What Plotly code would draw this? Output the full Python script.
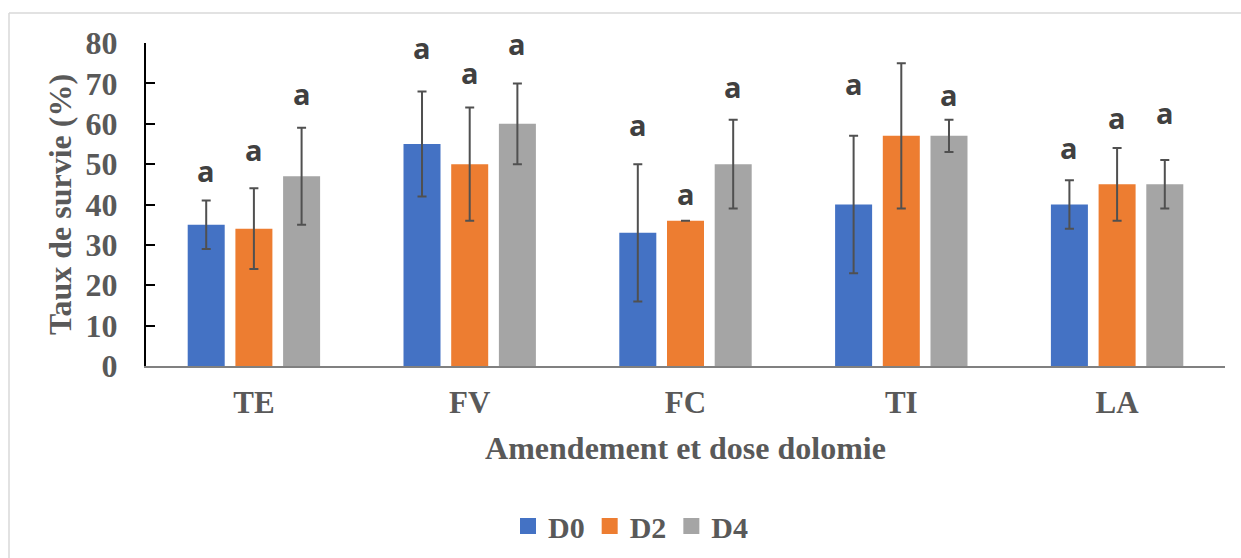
import plotly.graph_objects as go

# Survival rate (%) per amendment and dolomite dose
amendments = ["TE", "FV", "FC", "TI", "LA"]
doses = ["D0", "D2", "D4"]

survie_d0 = [35, 55, 33, 40, 40]
survie_d2 = [34, 50, 36, 57, 45]
survie_d4 = [47, 60, 50, 57, 45]

ecart_d0 = [6, 13, 17, 17, 6]
ecart_d2 = [10, 14, 0, 18, 9]
ecart_d4 = [12, 10, 11, 4, 6]

# Significance letters and the height (in % units) at which each sits
lettres_d0 = ["a", "a", "a", "a", "a"]
lettres_d2 = ["a", "a", "a", "a", "a"]
lettres_d4 = ["a", "a", "a", "a", "a"]
hauteur_d0 = [48.3, 79.0, 59.7, 70.0, 54.0]
hauteur_d2 = [53.5, 72.8, 42.7, 80.8, 61.6]
hauteur_d4 = [67.6, 79.9, 69.3, 67.3, 62.8]

colors = ["#4472C4", "#ED7D31", "#A5A5A5"]
values = [survie_d0, survie_d2, survie_d4]
errors = [ecart_d0, ecart_d2, ecart_d4]
letters = [lettres_d0, lettres_d2, lettres_d4]
heights = [hauteur_d0, hauteur_d2, hauteur_d4]

W, H = 1241, 558
ML, MR, MT, MB = 146, 16, 43, 192
plot_w = W - ML - MR
plot_h = H - MT - MB
BARGAP = 0.337
BARGROUPGAP = 0.224

serif = "Liberation Serif, Times New Roman, serif"
gray_txt = "#595959"

fig = go.Figure()
for name, vals, err, col in zip(doses, values, errors, colors):
    fig.add_trace(go.Bar(
        name=name, x=amendments, y=vals, legendgroup=name, showlegend=False,
        marker=dict(color=col, line=dict(width=0)),
        error_y=dict(type="data", array=err, visible=True,
                     color="#505050", thickness=2, width=4.5),
    ))
    # legend entry with a larger square swatch
    fig.add_trace(go.Scatter(
        name=name, x=[None], y=[None], mode="markers", legendgroup=name,
        marker=dict(symbol="square", size=16, color=col),
        showlegend=True, hoverinfo="skip",
    ))

# letters above each bar, shifted to the bar's slot inside the group
slot_px = plot_w / len(amendments) * (1 - BARGAP) / len(doses)
for i, (lets, hts) in enumerate(zip(letters, heights)):
    for cat, let, h in zip(amendments, lets, hts):
        fig.add_annotation(
            x=cat, y=h, text=let, showarrow=False,
            xshift=(i - 1) * slot_px, yanchor="middle",
            font=dict(family="Open Sans, sans-serif", size=29,
                      color="#404040", weight="bold"),
        )

# outer frame: top and left edges
frame = dict(color="#D9D9D9", width=1.5)
x0p = (9 - ML) / plot_w
y0p = (H - MB - 13) / plot_h
fig.add_shape(type="line", xref="paper", yref="paper",
              x0=x0p, x1=(W - ML) / plot_w, y0=y0p, y1=y0p, line=frame)
fig.add_shape(type="line", xref="paper", yref="paper",
              x0=x0p, x1=x0p, y0=y0p, y1=-(MB / plot_h), line=frame)

fig.update_layout(
    width=W, height=H,
    margin=dict(l=ML, r=MR, t=MT, b=MB, autoexpand=False),
    barmode="group", bargap=BARGAP, bargroupgap=BARGROUPGAP,
    plot_bgcolor="white", paper_bgcolor="white",
    font=dict(family=serif, color=gray_txt),
    showlegend=True,
    legend=dict(
        orientation="h", itemsizing="trace",
        xref="container", x=508 / W, xanchor="left",
        yref="container", y=(H - 526) / H, yanchor="middle",
        font=dict(family=serif, size=30, color=gray_txt, weight="bold"),
        itemclick=False, itemdoubleclick=False,
    ),
    xaxis=dict(
        type="category",
        showline=True, linecolor="#808080", linewidth=2,
        ticks="", tickfont=dict(family=serif, size=31, color=gray_txt, weight="bold"),
        ticklabelstandoff=8,
        title=dict(text="Amendement et dose dolomie", standoff=17,
                   font=dict(family=serif, size=32, color=gray_txt, weight="bold")),
        automargin=False,
    ),
    yaxis=dict(
        range=[0, 80], dtick=10, showgrid=False, zeroline=False,
        showline=True, linecolor="#000000", linewidth=2,
        ticks="inside", ticklen=9, tickwidth=2, tickcolor="#000000",
        tickfont=dict(family=serif, size=32, color=gray_txt, weight="bold"),
        ticklabelstandoff=20,
        title=dict(text="Taux de survie (%)", standoff=4,
                   font=dict(family=serif, size=32, color=gray_txt, weight="bold")),
        automargin=False,
    ),
)

fig.write_html("out.html")
